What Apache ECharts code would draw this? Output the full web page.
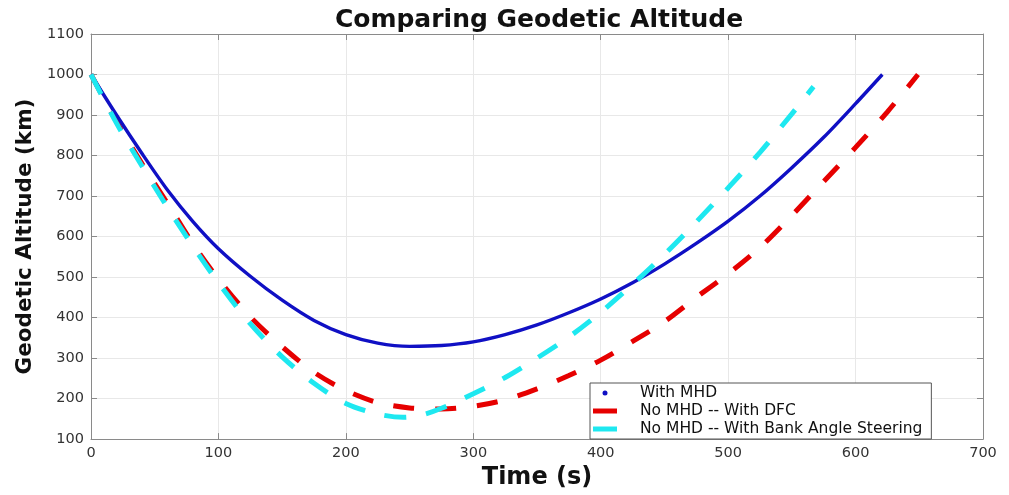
<!DOCTYPE html>
<html>
<head>
<meta charset="utf-8">
<script src="https://cdn.jsdelivr.net/npm/echarts@6/dist/echarts.min.js"></script>
<style>html,body{margin:0;padding:0;background:#fff}#c{width:1009px;height:495px}</style>
</head>
<body>
<div id="c"></div>
<script>
const xTicks = [0, 100, 200, 300, 400, 500, 600, 700];
const yTicks = [100, 200, 300, 400, 500, 600, 700, 800, 900, 1000, 1100];

const seriesNames = ['With MHD', 'No MHD -- With DFC', 'No MHD -- With Bank Angle Steering'];

const mhdTime = [0, 20, 40, 60, 80, 100, 125, 150, 175, 200, 225, 250, 275, 300, 325, 350, 375, 400, 425, 450, 475, 500, 525, 550, 575, 600, 621];
const mhdAlt  = [1000, 900, 805, 715, 637, 570, 502, 443, 393, 358, 337, 329, 331, 340, 358, 382, 412, 446, 486, 532, 583, 638, 700, 770, 845, 928, 1000];

const dfcTime = [0, 20, 40, 60, 80, 100, 125, 150, 175, 200, 225, 250, 275, 300, 325, 350, 375, 400, 425, 450, 475, 500, 525, 550, 575, 600, 625, 649];
const dfcAlt  = [1000, 884, 780, 682, 582, 495, 402, 328, 265, 220, 190, 177, 174, 181, 197, 224, 257, 295, 341, 390, 450, 508, 573, 652, 736, 820, 908, 1000];

const basTime = [0, 20, 40, 60, 80, 100, 125, 150, 175, 200, 225, 245, 260, 275, 300, 325, 350, 375, 400, 425, 450, 475, 500, 525, 550, 567];
const basAlt  = [1000, 880, 774, 672, 576, 486, 385, 303, 238, 188, 162, 154, 160, 176, 212, 252, 300, 352, 413, 482, 556, 636, 720, 808, 903, 970];

function pairs(t, a) { return t.map((v, i) => [v, a[i]]); }

const FONT = 'DejaVu Sans';
const chart = echarts.init(document.getElementById('c'), null, {renderer: 'canvas'});
const axisLineStyle = {color: '#8a8a8a', width: 1};
const BLUE = '#1010c4', RED = '#e60000', CYAN = '#1ee8f0';
const COLORS = [BLUE, RED, CYAN];
const ICONS = ['circle', 'rect', 'rect'];

// legend-only swatches (empty scatter series placed first so the legend takes their icons)
const legendSwatches = seriesNames.map((n, i) => ({
  name: n, type: 'scatter', data: [], xAxisIndex: 0, yAxisIndex: 0,
  itemStyle: {color: COLORS[i], opacity: 1}, silent: true
}));

chart.setOption({
  animation: false,
  backgroundColor: '#ffffff',
  title: {
    text: 'Comparing Geodetic Altitude',
    left: 534, top: 3, textAlign: 'center',
    textStyle: {fontFamily: FONT, fontWeight: 'bold', fontSize: 25, color: '#111'}
  },
  grid: {left: 91, right: 26, top: 34, bottom: 51, containLabel: false},
  legend: {
    left: 590, top: 383,
    orient: 'vertical',
    backgroundColor: '#ffffff',
    borderColor: '#555', borderWidth: 1, borderRadius: 0,
    padding: [2, 9, 2, 3],
    itemGap: 2, itemWidth: 24, itemHeight: 5,
    textStyle: {fontFamily: FONT, fontSize: 15.5, color: '#111', padding: [0, 0, 0, 18]},
    data: seriesNames.map((n, i) => ({name: n, icon: ICONS[i]}))
  },
  xAxis: [{
    type: 'value', min: xTicks[0], max: xTicks[xTicks.length - 1], interval: 100,
    name: 'Time (s)', nameLocation: 'middle', nameGap: 26,
    nameTextStyle: {fontFamily: FONT, fontWeight: 'bold', fontSize: 24, color: '#111'},
    axisLine: {show: true, onZero: false, lineStyle: axisLineStyle},
    axisTick: {show: true, inside: true, length: 6, lineStyle: axisLineStyle},
    axisLabel: {fontFamily: FONT, fontSize: 14.5, color: '#333', margin: 7, formatter: v => String(v)},
    splitLine: {show: true, lineStyle: {color: '#e8e8e8', width: 1}}
  }, {
    type: 'value', position: 'top', min: xTicks[0], max: xTicks[xTicks.length - 1], interval: 100,
    axisLine: {show: true, onZero: false, lineStyle: axisLineStyle},
    axisTick: {show: true, inside: true, length: 6, lineStyle: axisLineStyle},
    axisLabel: {show: false}, splitLine: {show: false}
  }],
  yAxis: [{
    type: 'value', min: yTicks[0], max: yTicks[yTicks.length - 1], interval: 100,
    name: 'Geodetic Altitude (km)', nameLocation: 'middle', nameGap: 53,
    nameTextStyle: {fontFamily: FONT, fontWeight: 'bold', fontSize: 21.5, color: '#111'},
    axisLine: {show: true, onZero: false, lineStyle: axisLineStyle},
    axisTick: {show: true, inside: true, length: 6, lineStyle: axisLineStyle},
    axisLabel: {fontFamily: FONT, fontSize: 14.5, color: '#333', margin: 7, formatter: v => String(v)},
    splitLine: {show: true, lineStyle: {color: '#e8e8e8', width: 1}}
  }, {
    type: 'value', position: 'right', min: yTicks[0], max: yTicks[yTicks.length - 1], interval: 100,
    axisLine: {show: true, onZero: false, lineStyle: axisLineStyle},
    axisTick: {show: true, inside: true, length: 6, lineStyle: axisLineStyle},
    axisLabel: {show: false}, splitLine: {show: false}
  }],
  series: legendSwatches.concat([{
    name: seriesNames[0], type: 'line', xAxisIndex: 0, yAxisIndex: 0,
    data: pairs(mhdTime, mhdAlt), smooth: 0.3, showSymbol: false, symbol: 'none',
    lineStyle: {color: BLUE, width: 3.4},
    itemStyle: {color: BLUE}, z: 3
  }, {
    name: seriesNames[1], type: 'line', xAxisIndex: 0, yAxisIndex: 0,
    data: pairs(dfcTime, dfcAlt), smooth: 0.3, showSymbol: false, symbol: 'none',
    lineStyle: {color: RED, width: 5, type: [21, 21], cap: 'butt'},
    itemStyle: {color: RED}, z: 2
  }, {
    name: seriesNames[2], type: 'line', xAxisIndex: 0, yAxisIndex: 0,
    data: pairs(basTime, basAlt), smooth: 0.3, showSymbol: false, symbol: 'none',
    lineStyle: {color: CYAN, width: 5, type: [22, 20], cap: 'butt'},
    itemStyle: {color: CYAN}, z: 4
  }])
});
</script>
</body>
</html>
